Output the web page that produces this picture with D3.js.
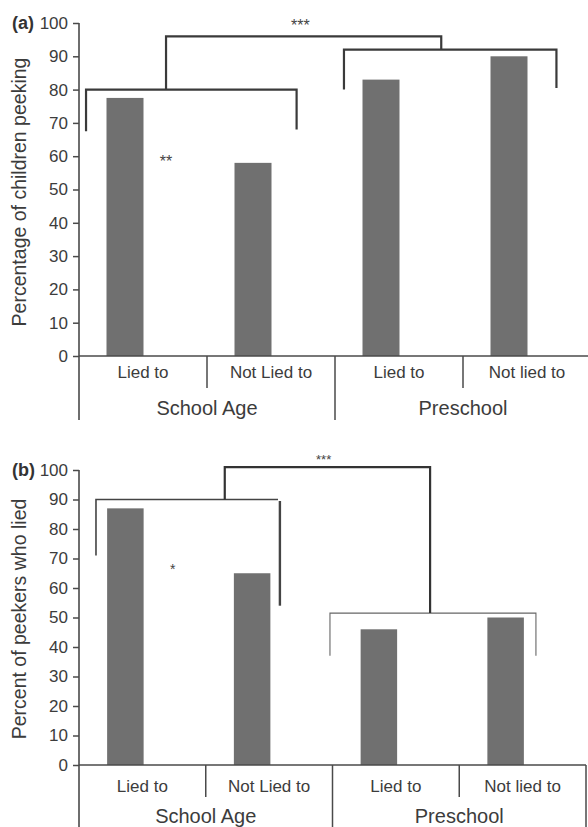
<!DOCTYPE html>
<html>
<head>
<meta charset="utf-8">
<script src="https://cdn.jsdelivr.net/npm/d3@7"></script>
<style>
  html, body { margin: 0; padding: 0; background: #fff; }
  svg { display: block; font-family: "Liberation Sans", Arial, sans-serif; }
</style>
</head>
<body>
<svg id="chart" width="588" height="827"></svg>
<script>
// ---------- DATA ----------
const categories = ["Lied to", "Not Lied to", "Lied to", "Not lied to"];
const groups = ["School Age", "Preschool"];
const groupOfCategory = [0, 0, 1, 1];
const yTicks = [0, 10, 20, 30, 40, 50, 60, 70, 80, 90, 100];

const peekingValues = [77.5, 58, 83, 90];   // panel (a)
const liedValues = [87, 65, 46, 50];        // panel (b)

const panelLabels = ["(a)", "(b)"];
const yTitles = ["Percentage of children peeking", "Percent of peekers who lied"];

// significance brackets: x in category-index units, y in data units
const bracketsA = [
  { pts: [[0.055, 67.5], [0.055, 80], [1.70, 80], [1.70, 68]], w: 2.2, c: "#3a3a3a" },
  { pts: [[2.07, 80], [2.07, 92], [3.73, 92], [3.73, 80.5]], w: 2.2, c: "#3a3a3a" },
  { pts: [[0.68, 80], [0.68, 96], [2.83, 96], [2.83, 92]], w: 2.2, c: "#3a3a3a" }
];
const starsA = [ { x: 1.73, y: 100.3, t: "***", s: 16 }, { x: 0.68, y: 59.5, t: "**", s: 16 } ];

const bracketsB = [
  { pts: [[0.134, 71], [0.134, 90], [1.57, 90]], w: 1.6, c: "#444" },
  { pts: [[1.585, 89.5], [1.585, 54]], w: 2.4, c: "#444" },
  { pts: [[1.98, 37], [1.98, 51.5], [3.605, 51.5], [3.605, 37]], w: 1.1, c: "#666" },
  { pts: [[1.15, 90], [1.15, 101], [2.77, 101], [2.77, 51.5]], w: 2.2, c: "#333" }
];
const starsB = [ { x: 1.93, y: 104.5, t: "***", s: 13 }, { x: 0.74, y: 67.5, t: "*", s: 14 } ];

// ---------- LAYOUT ----------
const svg = d3.select("#chart");
const textColor = "#3c3c3c";
const axisColor = "#4a4a4a";
const barColor = "#707070";

const panels = [
  { values: peekingValues, brackets: bracketsA, stars: starsA, label: panelLabels[0], title: yTitles[0],
    y0: 356, y100: 23, xL: 79, xR: 591, catBase: 22, groupBase: 59, bottom: 420, subDividerBottom: 388,
    titleX: 26, titleY: 192, barOffset: -18, barW: 37 },
  { values: liedValues, brackets: bracketsB, stars: starsB, label: panelLabels[1], title: yTitles[1],
    y0: 765, y100: 470, xL: 79, xR: 586, catBase: 27, groupBase: 58, bottom: 827, subDividerBottom: 797,
    titleX: 26, titleY: 619, barOffset: -17, barW: 36.5 }
];

panels.forEach(p => {
  const g = svg.append("g");
  const y = d3.scaleLinear().domain([0, 100]).range([p.y0, p.y100]);
  const x = d3.scaleBand().domain(d3.range(categories.length)).range([p.xL, p.xR]).padding(0);
  const xi = d3.scaleLinear().domain([0, categories.length]).range([p.xL, p.xR]);

  // bars
  g.selectAll("rect.bar").data(p.values).enter().append("rect")
    .attr("class", "bar")
    .attr("x", (d, i) => x(i) + x.bandwidth() / 2 + p.barOffset - p.barW / 2)
    .attr("width", p.barW)
    .attr("y", d => y(d))
    .attr("height", d => y(0) - y(d))
    .attr("fill", barColor);

  // y axis
  const yAxis = d3.axisLeft(y).tickValues(yTicks).tickSize(6).tickSizeOuter(0).tickPadding(5);
  const ag = g.append("g").attr("transform", `translate(${p.xL},0)`).call(yAxis);
  ag.select(".domain").remove();
  ag.selectAll(".tick line").attr("stroke", axisColor).attr("stroke-width", 1.5);
  ag.selectAll(".tick text").attr("fill", textColor).style("font-size", "17px")
    .style("font-family", "'Liberation Sans', Arial, sans-serif");

  // y axis line extended below
  g.append("line").attr("x1", p.xL).attr("x2", p.xL).attr("y1", y(100)).attr("y2", p.bottom)
    .attr("stroke", axisColor).attr("stroke-width", 1.6);
  // baseline
  g.append("line").attr("x1", p.xL).attr("x2", p.xR).attr("y1", y(0)).attr("y2", y(0))
    .attr("stroke", axisColor).attr("stroke-width", 1.6);

  // category dividers
  for (let i = 1; i <= categories.length; i++) {
    const isGroup = i === categories.length || groupOfCategory[i] !== groupOfCategory[i - 1];
    g.append("line").attr("x1", xi(i)).attr("x2", xi(i)).attr("y1", y(0))
      .attr("y2", isGroup ? p.bottom : p.subDividerBottom)
      .attr("stroke", axisColor).attr("stroke-width", 1.5);
  }

  // category labels
  g.selectAll("text.cat").data(categories).enter().append("text")
    .attr("class", "cat")
    .attr("x", (d, i) => x(i) + x.bandwidth() / 2)
    .attr("y", y(0) + p.catBase)
    .attr("text-anchor", "middle").attr("fill", textColor).style("font-size", "17px")
    .text(d => d);

  // group labels
  groups.forEach((gName, gi) => {
    const idx = d3.range(categories.length).filter(i => groupOfCategory[i] === gi);
    const cx = (xi(d3.min(idx)) + xi(d3.max(idx) + 1)) / 2;
    g.append("text").attr("x", cx).attr("y", y(0) + p.groupBase)
      .attr("text-anchor", "middle").attr("fill", textColor).style("font-size", "20px")
      .text(gName);
  });

  // panel label
  g.append("text").attr("x", 12).attr("y", y(100) + 6).attr("fill", "#333")
    .style("font-size", "18px").style("font-weight", "bold").text(p.label);

  // y title
  g.append("text").attr("transform", `translate(${p.titleX},${p.titleY}) rotate(-90)`)
    .attr("text-anchor", "middle").attr("fill", textColor).style("font-size", "19.5px")
    .text(p.title);

  // brackets
  const line = d3.line().x(d => xi(d[0])).y(d => y(d[1]));
  p.brackets.forEach(b => {
    g.append("path").attr("d", line(b.pts)).attr("fill", "none")
      .attr("stroke", b.c).attr("stroke-width", b.w);
  });
  p.stars.forEach(s => {
    g.append("text").attr("x", xi(s.x)).attr("y", y(s.y)).attr("dy", "0.55em")
      .attr("text-anchor", "middle").attr("fill", "#444").style("font-size", s.s + "px")
      .text(s.t);
  });
});
</script>
</body>
</html>
